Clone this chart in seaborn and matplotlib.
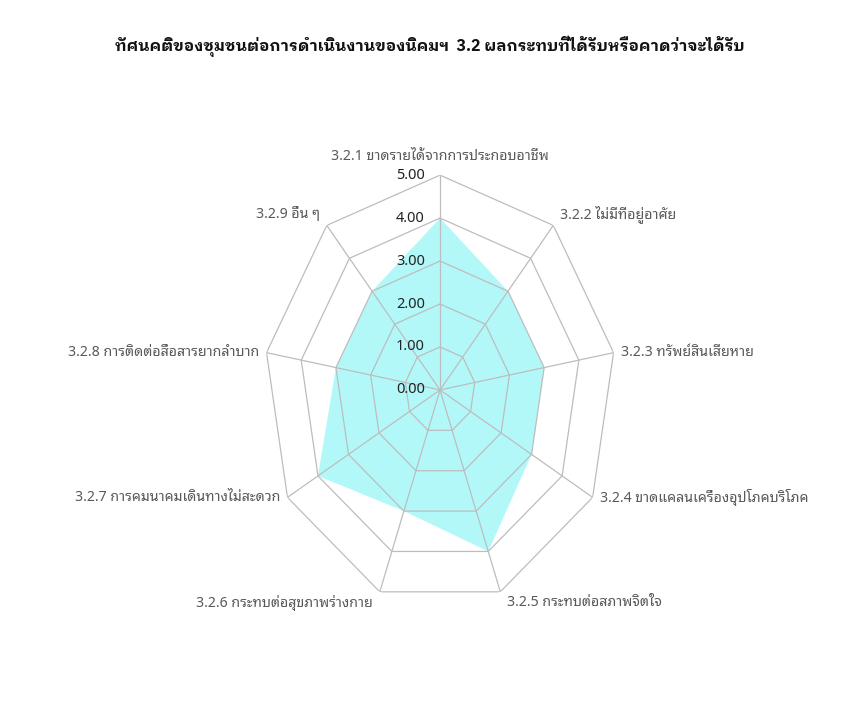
import numpy as np
import pandas as pd
import seaborn as sns
import matplotlib
matplotlib.use("Agg")
import matplotlib.pyplot as plt
from matplotlib.transforms import offset_copy

title = "ทัศนคติของชุมชนต่อการดำเนินงานของนิคมฯ  3.2 ผลกระทบที่ได้รับหรือคาดว่าจะได้รับ"
categories = [
    "3.2.1 ขาดรายได้จากการประกอบอาชีพ",
    "3.2.2 ไม่มีที่อยู่อาศัย",
    "3.2.3 ทรัพย์สินเสียหาย",
    "3.2.4 ขาดแคลนเครื่องอุปโภคบริโภค",
    "3.2.5 กระทบต่อสภาพจิตใจ",
    "3.2.6 กระทบต่อสุขภาพร่างกาย",
    "3.2.7 การคมนาคมเดินทางไม่สะดวก",
    "3.2.8 การติดต่อสื่อสารยากลำบาก",
    "3.2.9 อื่น ๆ",
]
scores = [4.0, 3.0, 3.0, 3.0, 4.0, 3.0, 4.0, 3.0, 3.0]
ticks = [0, 1, 2, 3, 4, 5]

sns.set_theme(style="white")
plt.rcParams["font.family"] = ["Noto Sans Thai Looped", "DejaVu Sans"]

df = pd.DataFrame({"category": categories, "score": scores})
n = len(df)
angles = np.linspace(0, 2 * np.pi, n, endpoint=False)
closed = np.append(angles, angles[0])

fig = plt.figure(figsize=(8.43, 7.09), dpi=100)
ax = fig.add_axes([0.313, 0.147, 0.418, 0.606], projection="polar")
ax.set_aspect("auto")
ax.set_theta_zero_location("N")
ax.set_theta_direction(-1)
ax.set_ylim(0, ticks[-1])
ax.grid(False)
ax.spines["polar"].set_visible(False)
ax.set_xticks([])
ax.set_yticks([])

# polygon rings and spokes
grid_col = "#bdbdbd"
for t in ticks[1:]:
    ax.plot(closed, [t] * (n + 1), color=grid_col, lw=0.9, zorder=2)
for a in angles:
    ax.plot([a, a], [0, ticks[-1]], color=grid_col, lw=0.9, zorder=2)

vals = np.append(df["score"].values, df["score"].values[0])
ax.fill(closed, vals, color="#b3f8f9", lw=0, zorder=1)

# radial value labels along the top spoke
for t in ticks:
    tr = offset_copy(ax.transData, fig=fig, x=-11, y=0, units="points")
    ax.text(0, t, f"{t:.2f}", transform=tr, ha="right", va="center",
            fontsize=10.5, color="#222222")

# category labels
for a, lab in zip(angles, df["category"]):
    deg = np.degrees(a)
    if deg < 1:
        ha, va, dx, dy = "center", "bottom", 0, 8
    elif deg < 175:
        ha, va, dx, dy = "left", "center", 5, 0
        if deg < 60:
            dy = 8
        if deg > 150:
            va, dy = "top", -2
    else:
        ha, va, dx, dy = "right", "center", -5, 0
        if deg > 300:
            dy = 8
        if deg < 210:
            va, dy = "top", -2
    tr = offset_copy(ax.transData, fig=fig, x=dx, y=dy, units="points")
    ax.text(a, ticks[-1], lab, transform=tr, ha=ha, va=va,
            fontsize=10.2, color="#595959")

fig.text(0.51, 0.935, title, ha="center", va="center", fontsize=11.4,
         fontweight="bold", color="#111111",
         family=["IBM Plex Sans Thai Looped", "DejaVu Sans"])

fig.savefig("out.png", dpi=100, facecolor="white")
